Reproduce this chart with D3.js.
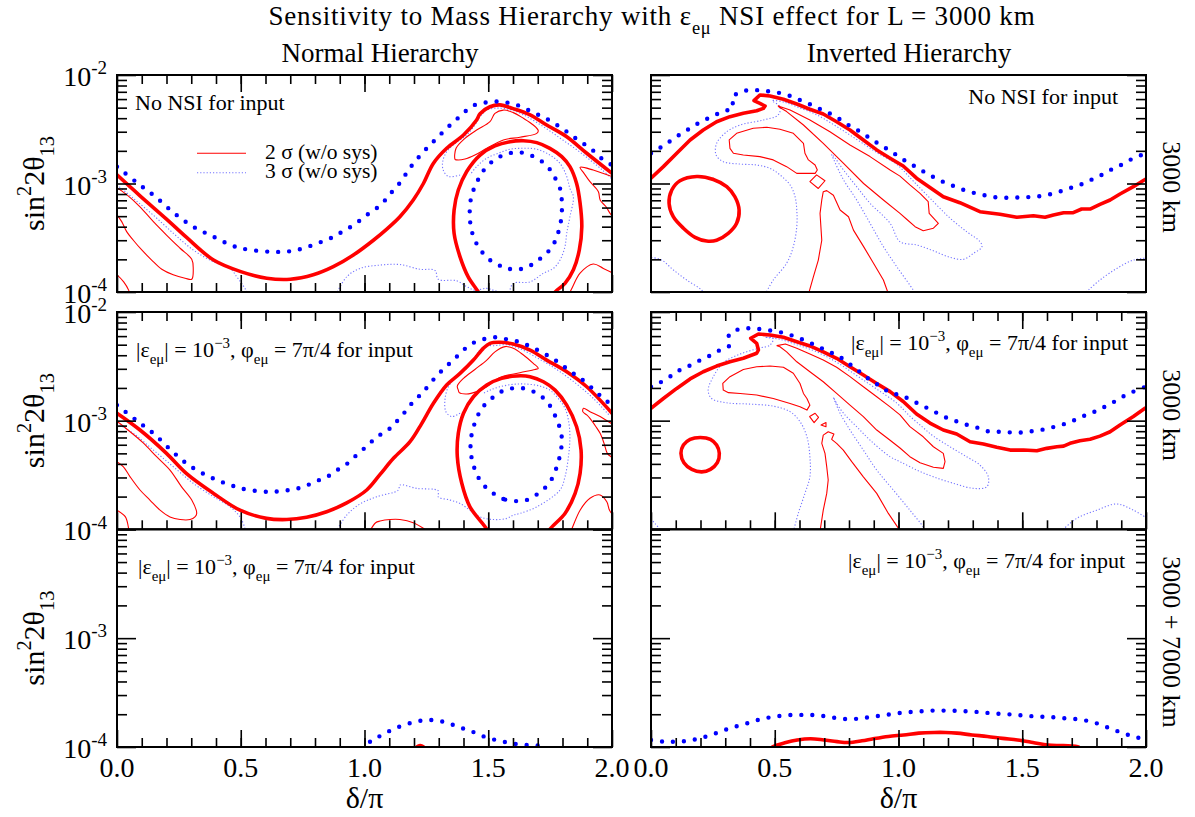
<!DOCTYPE html>
<html>
<head>
<meta charset="utf-8">
<script src="https://cdn.jsdelivr.net/npm/d3@7"></script>
<style>
html, body { margin: 0; padding: 0; background: #fff; }
svg { display: block; font-family: "Liberation Serif", "Times New Roman", serif; }
</style>
</head>
<body>
<script>
// ---------- axis values ----------
const deltaMajor = [0, 0.5, 1.0, 1.5, 2.0];
const deltaLabels = ["0.0", "0.5", "1.0", "1.5", "2.0"];
const s2Major = [1e-4, 1e-3, 1e-2];
const s2Exponents = ["-4", "-3", "-2"];

// ---------- NH, no NSI, 3000 km ----------
const nhA_thick = [[0,1.2e-3],[0.093,7.7e-4],[0.2,4.7e-4],[0.28,3.2e-4],[0.39,1.97e-4],[0.5,1.54e-4],[0.605,1.34e-4],[0.7,1.31e-4],[0.793,1.44e-4],[0.874,1.71e-4],[0.955,2.19e-4],[1.036,3.0e-4],[1.09,3.8e-4],[1.143,4.94e-4],[1.197,7.05e-4],[1.238,1.0e-3],[1.278,1.53e-3],[1.332,2.11e-3],[1.4,2.8e-3],[1.453,3.85e-3],[1.467,4.4e-3],[1.507,5.1e-3],[1.547,5.3e-3],[1.601,4.9e-3],[1.669,4.3e-3],[1.736,3.46e-3],[1.817,2.7e-3],[1.898,1.9e-3],[2.0,1.24e-3]];
const nhA_dots = [[0,1.43e-3],[0.08,1.02e-3],[0.154,7.6e-4],[0.228,5.4e-4],[0.308,4.0e-4],[0.389,3.24e-4],[0.47,2.65e-4],[0.524,2.47e-4],[0.618,2.35e-4],[0.672,2.35e-4],[0.712,2.4e-4],[0.76,2.56e-4],[0.807,2.8e-4],[0.854,3.06e-4],[0.894,3.43e-4],[0.935,3.87e-4],[0.975,4.45e-4],[1.015,5.24e-4],[1.056,6.1e-4],[1.09,7.3e-4],[1.117,8.7e-4],[1.15,1.06e-3],[1.177,1.33e-3],[1.204,1.59e-3],[1.238,1.96e-3],[1.271,2.34e-3],[1.305,2.8e-3],[1.339,3.34e-3],[1.372,3.9e-3],[1.406,4.6e-3],[1.446,5.3e-3],[1.494,5.6e-3],[1.541,5.7e-3],[1.588,5.5e-3],[1.635,5.1e-3],[1.682,4.5e-3],[1.723,4.1e-3],[1.763,3.63e-3],[1.804,3.16e-3],[1.844,2.7e-3],[1.884,2.34e-3],[1.925,2.0e-3],[1.965,1.65e-3],[2.0,1.48e-3]];
const nhA_ring = [[1.47,9e-5],[1.46,1.0e-4],[1.419,1.38e-4],[1.386,2.11e-4],[1.362,3.47e-4],[1.362,5.7e-4],[1.379,8.7e-4],[1.413,1.29e-3],[1.467,1.83e-3],[1.527,2.22e-3],[1.588,2.43e-3],[1.642,2.48e-3],[1.696,2.38e-3],[1.749,2.11e-3],[1.797,1.77e-3],[1.83,1.43e-3],[1.857,1.0e-3],[1.871,6.6e-4],[1.878,4.0e-4],[1.868,2.44e-4],[1.844,1.6e-4],[1.81,1.2e-4],[1.77,1.0e-4],[1.76,9e-5]];
const nhA_dotRing = [[1.595,1.62e-4],[1.547,1.75e-4],[1.507,1.97e-4],[1.474,2.35e-4],[1.449,2.9e-4],[1.433,3.67e-4],[1.426,4.68e-4],[1.426,6.1e-4],[1.433,7.8e-4],[1.451,9.9e-4],[1.471,1.22e-3],[1.5,1.48e-3],[1.541,1.74e-3],[1.585,1.9e-3],[1.625,1.94e-3],[1.669,1.83e-3],[1.713,1.62e-3],[1.749,1.35e-3],[1.774,1.08e-3],[1.794,8.4e-4],[1.797,6.8e-4],[1.797,5.24e-4],[1.79,4.08e-4],[1.777,3.24e-4],[1.756,2.56e-4],[1.722,2.15e-4],[1.685,1.84e-4],[1.642,1.65e-4]];
const nhA_thinIsland = [[1.366,1.67e-3],[1.37,2.11e-3],[1.406,2.61e-3],[1.453,3.11e-3],[1.507,3.71e-3],[1.527,4.43e-3],[1.561,4.75e-3],[1.601,4.5e-3],[1.642,3.99e-3],[1.682,3.46e-3],[1.702,3.07e-3],[1.696,2.9e-3],[1.628,2.67e-3],[1.561,2.52e-3],[1.494,2.11e-3],[1.446,1.83e-3],[1.406,1.68e-3],[1.372,1.65e-3]];
const nhA_thinEdge = [[2.01,1.14e-3],[1.999,1.16e-3],[1.924,1.33e-3],[1.871,1.41e-3],[1.887,1.24e-3],[1.911,1.04e-3],[1.945,8.4e-4],[1.952,7.05e-4],[1.976,6.1e-4],[1.995,5.2e-4],[2.01,4.9e-4]];
const nhA_thinCorner = [[1.82,9.5e-5],[1.83,1.0e-4],[1.871,1.49e-4],[1.924,1.81e-4],[1.965,1.65e-4],[2.01,1.47e-4]];
const nhA_thinLeft = [[-0.01,9.3e-4],[0,9.1e-4],[0.039,7.9e-4],[0.093,6.1e-4],[0.147,4.45e-4],[0.2,3.35e-4],[0.255,2.53e-4],[0.302,2.0e-4],[0.308,1.65e-4],[0.302,1.31e-4],[0.275,1.34e-4],[0.227,1.44e-4],[0.181,1.62e-4],[0.14,1.97e-4],[0.1,2.44e-4],[0.066,3.0e-4],[0.039,3.6e-4],[0.019,4.45e-4],[0,5.1e-4],[-0.01,5.3e-4]];
const nhA_thinLeftCorner = [[-0.01,1.5e-4],[0,1.44e-4],[0.027,1.24e-4],[0.047,1.04e-4],[0.052,9.5e-5]];
const nhA_fineLeft = [[0,9.7e-4],[0.066,7.3e-4],[0.147,5.1e-4],[0.228,3.47e-4],[0.308,2.44e-4],[0.389,1.9e-4],[0.457,1.65e-4],[0.484,1.38e-4],[0.504,1.2e-4],[0.521,1.04e-4],[0.53,9.5e-5]];
const nhA_fineBottom = [[0.885,9.5e-5],[0.928,1.38e-4],[0.982,1.65e-4],[1.063,1.77e-4],[1.143,1.79e-4],[1.224,1.62e-4],[1.285,1.58e-4],[1.298,1.31e-4],[1.372,1.27e-4],[1.413,1.12e-4],[1.446,1.04e-4],[1.494,1.08e-4],[1.527,1.03e-4],[1.58,1.0e-4],[1.601,1.2e-4],[1.669,1.24e-4],[1.723,1.49e-4],[1.763,1.65e-4],[1.79,1.97e-4],[1.81,2.62e-4],[1.817,3.47e-4],[1.83,4.94e-4],[1.844,7.55e-4],[1.83,9.0e-4],[1.817,1.16e-3],[1.79,1.53e-3],[1.749,1.83e-3],[1.696,2.07e-3],[1.642,2.11e-3],[1.588,2.07e-3],[1.541,1.9e-3],[1.494,1.71e-3],[1.453,1.43e-3],[1.426,1.2e-3]];
const nhA_fineUpper = [[1.386,1.2e-3],[1.339,1.16e-3],[1.318,1.33e-3],[1.316,1.59e-3],[1.332,1.96e-3],[1.366,2.34e-3],[1.413,2.8e-3],[1.446,3.46e-3],[1.467,4.13e-3],[1.494,4.75e-3],[1.534,4.95e-3],[1.588,4.8e-3],[1.642,4.3e-3],[1.696,3.65e-3],[1.749,3.05e-3],[1.803,2.5e-3],[1.857,2.05e-3],[1.911,1.65e-3],[1.958,1.35e-3],[2.0,1.1e-3]];

// ---------- IH, no NSI, 3000 km ----------
const ihA_thick = [[0,1.12e-3],[0.05,1.43e-3],[0.104,1.9e-3],[0.158,2.52e-3],[0.211,3.11e-3],[0.265,3.71e-3],[0.319,4.13e-3],[0.373,4.44e-3],[0.427,4.69e-3],[0.454,4.93e-3],[0.461,5.18e-3],[0.44,5.48e-3],[0.416,5.8e-3],[0.44,6.55e-3],[0.481,6.4e-3],[0.535,5.97e-3],[0.589,5.4e-3],[0.642,4.83e-3],[0.696,4.37e-3],[0.75,3.71e-3],[0.804,3.11e-3],[0.858,2.52e-3],[0.912,2.04e-3],[0.966,1.71e-3],[1.019,1.45e-3],[1.073,1.12e-3],[1.127,9.2e-4],[1.181,7.55e-4],[1.248,6.65e-4],[1.329,5.5e-4],[1.41,5.2e-4],[1.478,4.88e-4],[1.545,5.05e-4],[1.592,4.88e-4],[1.626,5.13e-4],[1.667,5.38e-4],[1.706,5.38e-4],[1.74,5.82e-4],[1.774,5.82e-4],[1.814,6.43e-4],[1.855,7.05e-4],[1.895,8.0e-4],[1.949,9.35e-4],[1.996,1.09e-3]];
const ihA_dots = [[0,1.9e-3],[0.04,2.16e-3],[0.08,2.48e-3],[0.12,2.86e-3],[0.16,3.25e-3],[0.2,3.69e-3],[0.245,4.13e-3],[0.288,4.59e-3],[0.333,5.04e-3],[0.326,6.1e-3],[0.364,7.0e-3],[0.411,7.27e-3],[0.457,7.13e-3],[0.504,6.93e-3],[0.551,6.55e-3],[0.595,5.97e-3],[0.64,5.4e-3],[0.683,4.86e-3],[0.726,4.37e-3],[0.768,3.85e-3],[0.808,3.34e-3],[0.848,2.98e-3],[0.889,2.57e-3],[0.929,2.25e-3],[0.97,1.98e-3],[1.01,1.71e-3],[1.05,1.51e-3],[1.091,1.33e-3],[1.134,1.17e-3],[1.179,1.04e-3],[1.221,9.5e-4],[1.266,8.7e-4],[1.313,8.1e-4],[1.36,7.7e-4],[1.407,7.4e-4],[1.455,7.4e-4],[1.502,7.46e-4],[1.549,7.55e-4],[1.596,7.8e-4],[1.643,8.3e-4],[1.689,9.0e-4],[1.733,9.7e-4],[1.778,1.08e-3],[1.821,1.2e-3],[1.864,1.36e-3],[1.906,1.51e-3],[1.949,1.71e-3],[1.993,1.87e-3]];
const ihA_ring = [[0.185,1.16e-3],[0.252,1.09e-3],[0.306,9.35e-4],[0.339,7.55e-4],[0.356,5.7e-4],[0.346,4.3e-4],[0.312,3.47e-4],[0.265,3.0e-4],[0.225,2.95e-4],[0.178,3.19e-4],[0.131,3.87e-4],[0.09,4.94e-4],[0.073,6.58e-4],[0.084,8.7e-4],[0.117,1.06e-3]];
const ihA_thinIsland = [[0.319,2.11e-3],[0.316,2.52e-3],[0.346,2.9e-3],[0.413,3.23e-3],[0.468,3.3e-3],[0.521,3.16e-3],[0.575,2.9e-3],[0.616,2.34e-3],[0.622,1.9e-3],[0.636,1.65e-3],[0.663,1.48e-3],[0.672,1.33e-3],[0.663,1.24e-3],[0.589,1.24e-3],[0.548,1.43e-3],[0.494,1.65e-3],[0.44,1.77e-3],[0.373,1.83e-3],[0.333,1.9e-3]];
const ihA_thinDiamond = [[0.642,1.04e-3],[0.669,1.2e-3],[0.703,1.06e-3],[0.676,9.0e-4]];
const ihA_thinStem = [[0.636,9.5e-5],[0.656,1.38e-4],[0.676,1.97e-4],[0.69,3.0e-4],[0.683,5.3e-4],[0.69,7.05e-4],[0.696,8.4e-4],[0.71,8.6e-4],[0.737,7.8e-4],[0.764,5.7e-4],[0.798,4.94e-4],[0.818,3.72e-4],[0.859,2.62e-4],[0.899,1.84e-4],[0.939,1.29e-4],[0.96,9.5e-5]];
const ihA_thinBand = [[0.514,5.18e-3],[0.562,4.75e-3],[0.642,3.85e-3],[0.723,3.0e-3],[0.804,2.26e-3],[0.885,1.77e-3],[0.966,1.33e-3],[1.006,1.17e-3],[1.046,9.7e-4],[1.087,8.1e-4],[1.12,6.8e-4],[1.124,5.3e-4],[1.161,4.3e-4],[1.141,3.87e-4],[1.1,3.67e-4],[1.067,4.0e-4],[1.033,4.68e-4],[1.006,5.3e-4],[0.939,7.05e-4],[0.859,1.0e-3],[0.778,1.53e-3],[0.696,2.34e-3],[0.616,3.46e-3],[0.548,4.6e-3],[0.519,5.04e-3]];
const ihA_fineMain = [[0.461,9.5e-5],[0.494,1.29e-4],[0.548,1.84e-4],[0.575,2.62e-4],[0.589,4.0e-4],[0.589,5.7e-4],[0.582,7.55e-4],[0.562,9.7e-4],[0.521,1.2e-3],[0.481,1.38e-3],[0.427,1.48e-3],[0.36,1.51e-3],[0.292,1.59e-3],[0.263,1.83e-3],[0.265,2.34e-3],[0.306,3.0e-3],[0.36,3.46e-3],[0.454,3.85e-3],[0.514,4.28e-3],[0.521,5.1e-3],[0.49,5.8e-3],[0.54,5.6e-3],[0.589,5.1e-3],[0.669,4.3e-3],[0.75,3.35e-3],[0.831,2.55e-3],[0.912,1.93e-3],[0.993,1.5e-3],[1.06,1.05e-3],[1.141,6.8e-4],[1.208,4.8e-4],[1.275,3.6e-4],[1.33,2.9e-4],[1.337,2.6e-4],[1.303,2.27e-4],[1.262,2.0e-4],[1.208,2.09e-4],[1.141,2.4e-4],[1.074,2.71e-4],[1.006,2.91e-4],[0.966,4.3e-4],[0.885,6.58e-4],[0.831,9.35e-4],[0.778,1.33e-3],[0.744,1.71e-3],[0.73,1.86e-3],[0.739,1.65e-3],[0.778,1.08e-3],[0.831,7.05e-4],[0.885,4.3e-4],[0.939,2.62e-4],[0.993,1.71e-4],[1.06,1.04e-4],[1.07,9.5e-5]];
const ihA_fineCorner = [[-0.01,2.15e-4],[0,2.1e-4],[0.043,1.97e-4],[0.09,1.6e-4],[0.144,1.29e-4],[0.205,1.04e-4],[0.215,9.5e-5]];
const ihA_fineRight = [[1.75,9.5e-5],[1.767,1.04e-4],[1.814,1.29e-4],[1.882,1.65e-4],[1.949,1.97e-4],[2.01,2.06e-4]];

// ---------- NH, |eps_emu| = 1e-3, 3000 km ----------
const nhB_thick = [[0,1.17e-3],[0.093,8.2e-4],[0.2,5.0e-4],[0.28,3.27e-4],[0.39,2.14e-4],[0.497,1.5e-4],[0.604,1.26e-4],[0.686,1.23e-4],[0.766,1.29e-4],[0.847,1.45e-4],[0.928,1.75e-4],[1.009,2.3e-4],[1.063,3.2e-4],[1.117,4.5e-4],[1.184,6.4e-4],[1.231,9.4e-4],[1.278,1.44e-3],[1.332,2.13e-3],[1.386,2.72e-3],[1.44,3.61e-3],[1.48,4.63e-3],[1.507,5.15e-3],[1.547,5.26e-3],[1.601,5.07e-3],[1.669,4.46e-3],[1.736,3.61e-3],[1.817,2.82e-3],[1.898,2.05e-3],[2.0,1.17e-3]];
const nhB_dots = [[0,1.39e-3],[0.08,1.0e-3],[0.154,7.4e-4],[0.225,5.17e-4],[0.3,3.76e-4],[0.389,2.94e-4],[0.47,2.5e-4],[0.521,2.33e-4],[0.618,2.21e-4],[0.665,2.26e-4],[0.713,2.33e-4],[0.76,2.5e-4],[0.807,2.78e-4],[0.854,3.09e-4],[0.894,3.56e-4],[0.935,4.1e-4],[0.975,5.0e-4],[1.015,5.96e-4],[1.049,7.1e-4],[1.09,8.0e-4],[1.117,9.2e-4],[1.15,1.1e-3],[1.18,1.35e-3],[1.21,1.6e-3],[1.235,1.81e-3],[1.265,2.2e-3],[1.298,2.67e-3],[1.332,3.18e-3],[1.366,3.75e-3],[1.4,4.47e-3],[1.44,5.2e-3],[1.483,5.64e-3],[1.531,5.85e-3],[1.577,5.6e-3],[1.626,5.3e-3],[1.671,4.8e-3],[1.713,4.3e-3],[1.756,3.79e-3],[1.794,3.3e-3],[1.833,2.82e-3],[1.871,2.48e-3],[1.925,1.94e-3],[1.965,1.6e-3],[2.0,1.39e-3]];
const nhB_ring = [[1.5,9e-5],[1.494,1.0e-4],[1.426,1.61e-4],[1.393,2.65e-4],[1.375,4.66e-4],[1.379,7.64e-4],[1.4,1.17e-3],[1.44,1.66e-3],[1.494,2.13e-3],[1.554,2.45e-3],[1.615,2.58e-3],[1.669,2.54e-3],[1.723,2.28e-3],[1.77,1.91e-3],[1.817,1.39e-3],[1.857,8.8e-4],[1.875,5.36e-4],[1.871,3.27e-4],[1.851,2.14e-4],[1.81,1.4e-4],[1.749,1.0e-4],[1.74,9e-5]];
const nhB_dotRing = [[1.608,1.82e-4],[1.561,1.9e-4],[1.521,2.14e-4],[1.484,2.52e-4],[1.457,3.09e-4],[1.44,3.9e-4],[1.43,5.0e-4],[1.429,6.4e-4],[1.437,8.2e-4],[1.453,1.05e-3],[1.474,1.3e-3],[1.507,1.55e-3],[1.547,1.82e-3],[1.595,1.98e-3],[1.644,1.98e-3],[1.689,1.82e-3],[1.727,1.58e-3],[1.756,1.3e-3],[1.777,1.01e-3],[1.794,7.9e-4],[1.797,6.2e-4],[1.79,4.82e-4],[1.777,3.77e-4],[1.76,3.0e-4],[1.733,2.46e-4],[1.696,2.09e-4],[1.655,1.86e-4]];
const nhB_thinIsland = [[1.379,1.91e-3],[1.375,2.08e-3],[1.4,2.45e-3],[1.446,2.96e-3],[1.494,3.61e-3],[1.527,4.3e-3],[1.568,4.8e-3],[1.601,4.63e-3],[1.642,4.02e-3],[1.682,3.37e-3],[1.702,3.03e-3],[1.689,2.96e-3],[1.628,2.76e-3],[1.547,2.5e-3],[1.494,2.05e-3],[1.453,1.85e-3],[1.413,1.76e-3],[1.383,1.81e-3]];
const nhB_thinEdge = [[2.01,9.2e-4],[1.999,9.4e-4],[1.952,1.09e-3],[1.911,1.21e-3],[1.885,1.3e-3],[1.882,1.21e-3],[1.898,1.13e-3],[1.911,1.05e-3],[1.935,8.8e-4],[1.952,7.64e-4],[1.968,6.18e-4],[1.981,5.0e-4],[1.996,4.66e-4],[2.01,4.5e-4]];
const nhB_thinCorner = [[1.832,9.5e-5],[1.837,1.0e-4],[1.871,1.5e-4],[1.911,1.93e-4],[1.952,2.07e-4],[1.979,1.79e-4],[1.99,1.5e-4],[2.01,1.3e-4]];
const nhB_thinHump = [[1.02,9.5e-5],[1.045,1.15e-4],[1.063,1.19e-4],[1.103,1.23e-4],[1.143,1.23e-4],[1.197,1.15e-4],[1.26,9.5e-5]];
const nhB_thinLeft = [[-0.01,1.0e-3],[0,9.8e-4],[0.053,7.9e-4],[0.107,6.2e-4],[0.16,4.66e-4],[0.214,3.51e-4],[0.261,2.46e-4],[0.302,1.86e-4],[0.322,1.4e-4],[0.315,1.3e-4],[0.295,1.23e-4],[0.255,1.23e-4],[0.214,1.3e-4],[0.174,1.5e-4],[0.133,1.86e-4],[0.093,2.3e-4],[0.053,3.04e-4],[0.026,3.76e-4],[0,4.18e-4],[-0.01,4.3e-4]];
const nhB_thinLeftCorner = [[-0.01,1.55e-4],[0,1.5e-4],[0.034,1.3e-4],[0.047,1.02e-4],[0.05,9.5e-5]];
const nhB_fineLeft = [[0,9.4e-4],[0.066,7.64e-4],[0.147,5.36e-4],[0.228,3.76e-4],[0.308,2.65e-4],[0.389,2.0e-4],[0.457,1.61e-4],[0.497,1.3e-4],[0.517,1.02e-4],[0.52,9.5e-5]];
const nhB_fineBottom = [[0.885,9.5e-5],[0.928,1.35e-4],[0.982,1.71e-4],[1.049,1.99e-4],[1.137,2.3e-4],[1.143,2.55e-4],[1.211,2.38e-4],[1.298,2.26e-4],[1.298,1.99e-4],[1.345,1.86e-4],[1.386,1.73e-4],[1.426,1.5e-4],[1.467,1.3e-4],[1.521,1.23e-4],[1.575,1.26e-4],[1.601,1.35e-4],[1.628,1.4e-4],[1.696,1.61e-4],[1.79,2.3e-4],[1.81,3.04e-4],[1.824,4.66e-4],[1.83,7.1e-4],[1.824,1.01e-3],[1.81,1.3e-3],[1.783,1.6e-3],[1.749,1.91e-3],[1.709,2.08e-3],[1.655,2.17e-3],[1.601,2.16e-3],[1.547,2.05e-3],[1.507,1.91e-3],[1.48,1.78e-3]];
const nhB_fineUpper = [[1.386,1.17e-3],[1.352,1.09e-3],[1.329,1.21e-3],[1.325,1.55e-3],[1.339,2.05e-3],[1.372,2.54e-3],[1.426,3.25e-3],[1.46,4.3e-3],[1.487,4.85e-3],[1.527,4.9e-3],[1.575,5.0e-3],[1.628,4.6e-3],[1.696,3.8e-3],[1.763,3.1e-3],[1.817,2.55e-3],[1.871,2.05e-3],[1.925,1.6e-3],[1.992,1.1e-3]];

// ---------- IH, |eps_emu| = 1e-3, 3000 km ----------
const ihB_thick = [[0,1.3e-3],[0.05,1.6e-3],[0.104,1.98e-3],[0.158,2.42e-3],[0.211,2.82e-3],[0.265,3.18e-3],[0.319,3.48e-3],[0.373,3.75e-3],[0.427,4.17e-3],[0.434,4.47e-3],[0.427,5.15e-3],[0.403,5.73e-3],[0.434,6.27e-3],[0.481,6.14e-3],[0.535,5.85e-3],[0.589,5.33e-3],[0.642,4.87e-3],[0.696,4.3e-3],[0.75,3.75e-3],[0.804,3.13e-3],[0.858,2.63e-3],[0.912,2.2e-3],[0.966,1.85e-3],[1.019,1.5e-3],[1.073,1.15e-3],[1.127,9.5e-4],[1.181,8.2e-4],[1.235,7.53e-4],[1.289,6.4e-4],[1.343,6.1e-4],[1.397,5.68e-4],[1.451,5.36e-4],[1.505,5.36e-4],[1.559,5.28e-4],[1.599,5.56e-4],[1.64,5.75e-4],[1.667,5.83e-4],[1.693,6.18e-4],[1.733,6.53e-4],[1.774,6.73e-4],[1.814,7.2e-4],[1.855,7.9e-4],[1.895,9.1e-4],[1.949,1.09e-3],[1.996,1.3e-3]];
const ihB_dots = [[0,2.05e-3],[0.061,2.4e-3],[0.104,2.82e-3],[0.147,3.13e-3],[0.192,3.54e-3],[0.235,3.94e-3],[0.279,4.47e-3],[0.319,4.97e-3],[0.315,6.14e-3],[0.353,6.92e-3],[0.4,7.08e-3],[0.448,6.92e-3],[0.495,6.68e-3],[0.542,6.37e-3],[0.589,5.85e-3],[0.633,5.33e-3],[0.676,4.8e-3],[0.72,4.3e-3],[0.761,3.88e-3],[0.804,3.3e-3],[0.845,2.8e-3],[0.885,2.37e-3],[0.926,2.08e-3],[0.966,1.81e-3],[1.006,1.72e-3],[1.046,1.57e-3],[1.091,1.39e-3],[1.134,1.25e-3],[1.179,1.1e-3],[1.222,1.01e-3],[1.266,9.3e-4],[1.313,8.7e-4],[1.36,8.0e-4],[1.407,7.9e-4],[1.455,7.8e-4],[1.502,7.8e-4],[1.549,8.07e-4],[1.596,8.37e-4],[1.643,8.97e-4],[1.689,9.6e-4],[1.733,1.07e-3],[1.778,1.17e-3],[1.821,1.3e-3],[1.864,1.46e-3],[1.906,1.66e-3],[1.949,1.85e-3],[1.993,2.03e-3]];
const ihB_ring = [[0.199,7.0e-4],[0.24,6.73e-4],[0.265,5.96e-4],[0.276,5.0e-4],[0.268,4.1e-4],[0.24,3.56e-4],[0.205,3.38e-4],[0.165,3.56e-4],[0.133,4.1e-4],[0.121,5.0e-4],[0.131,5.96e-4],[0.158,6.73e-4]];
const ihB_thinIsland = [[0.292,1.91e-3],[0.29,2.2e-3],[0.319,2.54e-3],[0.373,2.96e-3],[0.427,3.13e-3],[0.481,3.18e-3],[0.535,3.1e-3],[0.575,2.73e-3],[0.602,2.2e-3],[0.616,1.78e-3],[0.63,1.6e-3],[0.642,1.39e-3],[0.63,1.25e-3],[0.602,1.34e-3],[0.562,1.44e-3],[0.494,1.6e-3],[0.427,1.72e-3],[0.36,1.78e-3],[0.313,1.81e-3]];
const ihB_thinDiamond = [[0.641,1.09e-3],[0.663,1.17e-3],[0.677,1.07e-3],[0.659,9.6e-4]];
const ihB_thinTriangle = [[0.687,9.1e-4],[0.707,9.6e-4],[0.707,8.8e-4]];
const ihB_thinStem = [[0.682,9.5e-5],[0.684,1.0e-4],[0.696,1.5e-4],[0.71,2.14e-4],[0.716,2.84e-4],[0.71,3.76e-4],[0.703,5.0e-4],[0.69,6.18e-4],[0.696,7.36e-4],[0.716,7.9e-4],[0.739,7.53e-4],[0.73,6.73e-4],[0.75,6.18e-4],[0.777,5.36e-4],[0.811,4.19e-4],[0.858,3.04e-4],[0.912,2.14e-4],[0.959,1.4e-4],[1.0,1.02e-4],[1.003,9.5e-5]];
const ihB_thinBand = [[0.509,4.9e-3],[0.543,5.07e-3],[0.589,4.63e-3],[0.642,4.1e-3],[0.696,3.61e-3],[0.75,3.1e-3],[0.804,2.54e-3],[0.858,2.05e-3],[0.912,1.66e-3],[0.966,1.34e-3],[1.006,1.13e-3],[1.046,8.8e-4],[1.1,7.1e-4],[1.141,5.75e-4],[1.181,5.0e-4],[1.188,4.19e-4],[1.181,3.64e-4],[1.141,3.72e-4],[1.087,4.1e-4],[1.046,4.66e-4],[1.006,5.6e-4],[0.966,6.6e-4],[0.912,8.2e-4],[0.858,1.09e-3],[0.804,1.39e-3],[0.75,1.78e-3],[0.696,2.28e-3],[0.642,2.82e-3],[0.589,3.48e-3],[0.548,4.3e-3],[0.521,4.79e-3]];
const ihB_fineMain = [[0.575,9.5e-5],[0.595,1.4e-4],[0.622,2.14e-4],[0.642,3.04e-4],[0.642,4.66e-4],[0.63,7.1e-4],[0.602,9.8e-4],[0.562,1.21e-3],[0.494,1.36e-3],[0.4,1.42e-3],[0.306,1.46e-3],[0.245,1.6e-3],[0.231,1.91e-3],[0.252,2.54e-3],[0.292,3.41e-3],[0.36,4.1e-3],[0.434,4.63e-3],[0.481,4.97e-3],[0.494,5.73e-3],[0.461,5.85e-3],[0.521,5.6e-3],[0.589,5.0e-3],[0.669,4.3e-3],[0.75,3.45e-3],[0.831,2.6e-3],[0.912,1.95e-3],[0.993,1.45e-3],[1.046,1.1e-3],[1.1,8.6e-4],[1.141,7.2e-4],[1.208,5.75e-4],[1.275,4.66e-4],[1.329,3.9e-4],[1.363,3.04e-4],[1.357,2.46e-4],[1.303,2.38e-4],[1.222,2.65e-4],[1.141,3.04e-4],[1.074,3.51e-4],[1.006,4.19e-4],[0.966,4.66e-4],[0.885,6.62e-4],[0.831,8.8e-4],[0.778,1.17e-3],[0.75,1.44e-3],[0.737,1.64e-3],[0.744,1.49e-3],[0.764,1.17e-3],[0.804,8.2e-4],[0.858,5.36e-4],[0.912,3.51e-4],[0.979,2.3e-4],[1.046,1.5e-4],[1.1,1.05e-4],[1.11,9.5e-5]];
const ihB_fineCorner = [[-0.01,1.3e-4],[0,1.25e-4],[0.016,1.13e-4],[0.045,9.5e-5]];
const ihB_fineRight = [[1.655,9.5e-5],[1.72,1.26e-4],[1.801,1.5e-4],[1.882,1.71e-4],[1.949,1.5e-4],[2.01,1.24e-4]];

// ---------- 3000 + 7000 km combined ----------
const nhC_dots = [[0.99,9.5e-5],[1.031,1.16e-4],[1.072,1.29e-4],[1.116,1.46e-4],[1.16,1.59e-4],[1.208,1.71e-4],[1.254,1.77e-4],[1.302,1.74e-4],[1.347,1.63e-4],[1.394,1.49e-4],[1.437,1.38e-4],[1.482,1.25e-4],[1.53,1.16e-4],[1.577,1.1e-4],[1.622,1.06e-4],[1.67,1.04e-4],[1.716,1.02e-4],[1.75,9.5e-5]];
const nhC_thick = [[1.2,9.5e-5],[1.225,1.03e-4],[1.25,9.5e-5]];
const ihC_dots = [[0,1.16e-4],[0.054,1.12e-4],[0.1,1.12e-4],[0.149,1.14e-4],[0.196,1.2e-4],[0.243,1.29e-4],[0.289,1.41e-4],[0.333,1.52e-4],[0.381,1.63e-4],[0.427,1.76e-4],[0.473,1.86e-4],[0.522,1.93e-4],[0.573,1.97e-4],[0.619,1.97e-4],[0.665,1.96e-4],[0.714,1.9e-4],[0.76,1.83e-4],[0.806,1.8e-4],[0.852,1.84e-4],[0.898,1.9e-4],[0.947,1.97e-4],[0.995,2.04e-4],[1.044,2.09e-4],[1.09,2.13e-4],[1.136,2.16e-4],[1.185,2.16e-4],[1.236,2.15e-4],[1.282,2.12e-4],[1.331,2.09e-4],[1.377,2.04e-4],[1.428,2.01e-4],[1.477,1.97e-4],[1.524,1.93e-4],[1.573,1.9e-4],[1.619,1.88e-4],[1.669,1.84e-4],[1.715,1.81e-4],[1.762,1.74e-4],[1.808,1.63e-4],[1.853,1.49e-4],[1.899,1.36e-4],[1.945,1.26e-4],[1.991,1.18e-4]];
const ihC_thick = [[0.485,9.5e-5],[0.491,1.0e-4],[0.545,1.1e-4],[0.591,1.16e-4],[0.645,1.19e-4],[0.698,1.16e-4],[0.752,1.12e-4],[0.798,1.1e-4],[0.852,1.14e-4],[0.898,1.19e-4],[0.959,1.25e-4],[1.021,1.29e-4],[1.082,1.34e-4],[1.144,1.36e-4],[1.19,1.36e-4],[1.236,1.34e-4],[1.297,1.29e-4],[1.359,1.25e-4],[1.42,1.2e-4],[1.481,1.16e-4],[1.543,1.1e-4],[1.604,1.04e-4],[1.666,1.03e-4],[1.727,1.0e-4],[1.73,9.5e-5]];

// ---------- page layout ----------
const W = 1195, H = 817;
const colBox = [{x0: 117, x1: 612}, {x0: 651, x1: 1146}];
const rowBox = [{y0: 75, y1: 292}, {y0: 312, y1: 529.3}, {y0: 529.3, y1: 747}];
const FONT_MAIN = 28;

const STYLE = {
  fine:  {stroke: "#7474ff", width: 1.1, dash: "1.2 2", cap: "butt"},
  thin:  {stroke: "#ff0000", width: 1.1, dash: null, cap: "round"},
  thick: {stroke: "#ff0000", width: 3.6, dash: null, cap: "round"},
  dots:  {stroke: "#0000ff", width: 4.4, dash: "0 11", cap: "round"}
};

const L = (data, kind, closed, lin) => ({data, kind, closed: !!closed, lin: !!lin});

const panels = [
  {r: 0, c: 0, ticks: {top: 1, bottom: 1, left: 1, right: 1}, layers: [
    L(nhA_fineLeft, "fine"), L(nhA_fineBottom, "fine"), L(nhA_fineUpper, "fine"),
    L(nhA_thinIsland, "thin", true), L(nhA_thinEdge, "thin"), L(nhA_thinCorner, "thin"),
    L(nhA_thinLeft, "thin"), L(nhA_thinLeftCorner, "thin"),
    L(nhA_thick, "thick"), L(nhA_ring, "thick"),
    L(nhA_dots, "dots"), L(nhA_dotRing, "dots", true)]},
  {r: 0, c: 1, ticks: {left: 1, right: 1}, layers: [
    L(ihA_fineMain, "fine"), L(ihA_fineCorner, "fine"), L(ihA_fineRight, "fine"),
    L(ihA_thinIsland, "thin", true, true), L(ihA_thinDiamond, "thin", true, true),
    L(ihA_thinStem, "thin", false, true), L(ihA_thinBand, "thin", true, true),
    L(ihA_thick, "thick", false, true), L(ihA_ring, "thick", true),
    L(ihA_dots, "dots")]},
  {r: 1, c: 0, ticks: {top: 1, bottom: 1, left: 1, right: 1}, layers: [
    L(nhB_fineLeft, "fine"), L(nhB_fineBottom, "fine"), L(nhB_fineUpper, "fine"),
    L(nhB_thinIsland, "thin", true), L(nhB_thinEdge, "thin"), L(nhB_thinCorner, "thin"),
    L(nhB_thinHump, "thin"), L(nhB_thinLeft, "thin"), L(nhB_thinLeftCorner, "thin"),
    L(nhB_thick, "thick"), L(nhB_ring, "thick"),
    L(nhB_dots, "dots"), L(nhB_dotRing, "dots", true)]},
  {r: 1, c: 1, ticks: {top: 1, bottom: 1, left: 1, right: 1}, layers: [
    L(ihB_fineMain, "fine"), L(ihB_fineCorner, "fine"), L(ihB_fineRight, "fine"),
    L(ihB_thinIsland, "thin", true, true), L(ihB_thinDiamond, "thin", true, true),
    L(ihB_thinTriangle, "thin", true, true), L(ihB_thinStem, "thin", false, true),
    L(ihB_thinBand, "thin", true, true),
    L(ihB_thick, "thick", false, true), L(ihB_ring, "thick", true),
    L(ihB_dots, "dots")]},
  {r: 2, c: 0, ticks: {bottom: 1, left: 1, right: 1}, layers: [
    L(nhC_thick, "thick"), L(nhC_dots, "dots")]},
  {r: 2, c: 1, ticks: {bottom: 1, left: 1, right: 1}, layers: [
    L(ihC_thick, "thick"), L(ihC_dots, "dots")]}
];

const svg = d3.select("body").append("svg").attr("width", W).attr("height", H);
const defs = svg.append("defs");

// text with sub/superscript runs
function richText(parent, x, y, parts, size, anchor) {
  const t = parent.append("text").attr("x", x).attr("y", y)
    .attr("font-size", size).attr("text-anchor", anchor || "start").attr("fill", "#000");
  let off = 0;
  parts.forEach(([str, kind]) => {
    const target = kind === "sub" ? size * 0.32 : kind === "sup" ? -size * 0.42 : 0;
    const ts = t.append("tspan").attr("dy", target - off).text(str);
    if (kind) ts.attr("font-size", size * 0.68);
    off = target;
  });
  return t;
}

const xMinor = d3.range(1, 20).map(i => i / 10);
const yMinor = d3.range(2, 10).flatMap(k => [k * 1e-4, k * 1e-3]);

function tickAxis(g, axisFn, scale, values, len, tx, ty) {
  const a = g.append("g").attr("transform", `translate(${tx},${ty})`)
    .call(axisFn(scale).tickValues(values).tickSize(-len).tickFormat(""));
  a.select(".domain").remove();
  a.selectAll("line").attr("stroke", "#000").attr("stroke-width", 1.6);
}

panels.forEach((p, i) => {
  const {x0, x1} = colBox[p.c];
  const {y0, y1} = rowBox[p.r];
  const x = d3.scaleLinear().domain([0, 2]).range([x0, x1]);
  const y = d3.scaleLog().domain([1e-4, 1e-2]).range([y1, y0]);
  const g = svg.append("g");
  const clipId = "panel-clip-" + i;
  defs.append("clipPath").attr("id", clipId).append("rect")
    .attr("x", x0).attr("y", y0).attr("width", x1 - x0).attr("height", y1 - y0);
  const plot = g.append("g").attr("clip-path", `url(#${clipId})`);

  ["fine", "thin", "thick", "dots"].forEach(kind => {
    p.layers.filter(l => l.kind === kind).forEach(l => {
      const curve = l.closed
        ? (l.lin ? d3.curveLinearClosed : d3.curveCatmullRomClosed.alpha(0.5))
        : (l.lin ? d3.curveLinear : d3.curveCatmullRom.alpha(0.5));
      const line = d3.line().x(d => x(d[0])).y(d => y(d[1])).curve(curve);
      const s = STYLE[kind];
      plot.append("path").attr("d", line(l.data))
        .attr("fill", "none").attr("stroke", s.stroke).attr("stroke-width", s.width)
        .attr("stroke-dasharray", s.dash).attr("stroke-linecap", s.cap)
        .attr("stroke-linejoin", "round");
    });
  });

  const t = p.ticks;
  if (t.bottom) { tickAxis(g, d3.axisBottom, x, xMinor, 9, 0, y1); tickAxis(g, d3.axisBottom, x, deltaMajor, 17, 0, y1); }
  if (t.top)    { tickAxis(g, d3.axisTop, x, xMinor, 9, 0, y0);    tickAxis(g, d3.axisTop, x, deltaMajor, 17, 0, y0); }
  if (t.left)   { tickAxis(g, d3.axisLeft, y, yMinor, 10, x0, 0);  tickAxis(g, d3.axisLeft, y, s2Major, 19, x0, 0); }
  if (t.right)  { tickAxis(g, d3.axisRight, y, yMinor, 10, x1, 0); tickAxis(g, d3.axisRight, y, s2Major, 19, x1, 0); }

  g.append("rect").attr("x", x0).attr("y", y0).attr("width", x1 - x0).attr("height", y1 - y0)
    .attr("fill", "none").attr("stroke", "#000").attr("stroke-width", 2);

  // y tick labels on the left column
  if (p.c === 0) {
    s2Major.forEach((v, k) => {
      if (p.r === 2 && v === 1e-2) return;
      richText(svg, 107, y(v) + 11, [["10"], [s2Exponents[k], "sup"]], FONT_MAIN, "end");
    });
    richText(svg, 0, 0, [["sin"], ["2", "sup"], ["2θ"], ["13", "sub"]], 30, "middle")
      .attr("transform", `translate(44,${(y0 + y1) / 2}) rotate(-90)`);
  }
  // x tick labels on the bottom row
  if (p.r === 2) {
    deltaMajor.forEach((v, k) => {
      svg.append("text").attr("x", x(v)).attr("y", 777).attr("font-size", FONT_MAIN)
        .attr("text-anchor", "middle").text(deltaLabels[k]);
    });
    svg.append("text").attr("x", (x0 + x1) / 2).attr("y", 808).attr("font-size", 30)
      .attr("text-anchor", "middle").text("δ/π");
  }
});

// titles
richText(svg, 652, 25, [["Sensitivity to Mass Hierarchy with ε"], ["eμ", "sub"], [" NSI effect for L = 3000 km"]], 27, "middle")
  .attr("letter-spacing", 0.8);
svg.append("text").attr("x", 380).attr("y", 62).attr("font-size", 27).attr("text-anchor", "middle").text("Normal Hierarchy");
svg.append("text").attr("x", 909).attr("y", 62).attr("font-size", 27).attr("text-anchor", "middle").text("Inverted Hierarchy");

// baseline labels on the right
[["3000 km", 187], ["3000 km", 415], ["3000 + 7000 km", 642]].forEach(([txt, cy]) => {
  svg.append("text").attr("transform", `translate(1163,${cy}) rotate(90)`)
    .attr("font-size", 26).attr("text-anchor", "middle").text(txt);
});

// panel annotations
const nsiInput = [["|ε"], ["eμ", "sub"], ["| = 10"], ["−3", "sup"], [", φ"], ["eμ", "sub"], [" = 7π/4 for input"]];
svg.append("text").attr("x", 135).attr("y", 110).attr("font-size", 22).text("No NSI for input");
svg.append("text").attr("x", 1118).attr("y", 104).attr("font-size", 22).attr("text-anchor", "end").text("No NSI for input");
richText(svg, 136, 357, nsiInput, 22, "start");
richText(svg, 1128, 350, nsiInput, 22, "end");
richText(svg, 138, 574, nsiInput, 22, "start");
richText(svg, 1125, 568, nsiInput, 22, "end");

// legend
svg.append("line").attr("x1", 197).attr("x2", 246).attr("y1", 153.3).attr("y2", 153.3)
  .attr("stroke", STYLE.thin.stroke).attr("stroke-width", STYLE.thin.width);
svg.append("line").attr("x1", 197).attr("x2", 246).attr("y1", 172.7).attr("y2", 172.7)
  .attr("stroke", STYLE.fine.stroke).attr("stroke-width", STYLE.fine.width).attr("stroke-dasharray", STYLE.fine.dash);
svg.append("text").attr("x", 265).attr("y", 159).attr("font-size", 21.5).text("2 σ (w/o sys)");
svg.append("text").attr("x", 265).attr("y", 177.5).attr("font-size", 21.5).text("3 σ (w/o sys)");
</script>
</body>
</html>
